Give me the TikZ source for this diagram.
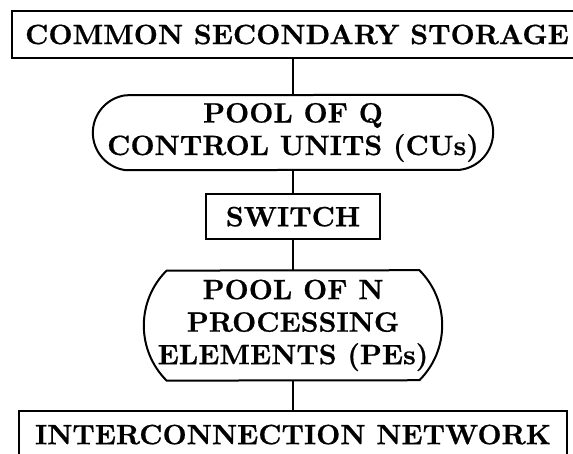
\documentclass[tikz,border=0pt]{standalone}
\usepackage{fontspec}
\usetikzlibrary{positioning}
\newfontfamily\heavyface{lmroman10-bold.otf}[FakeBold=0.6]
\newcommand{\blockfont}{\fontsize{28}{32.5}\selectfont\heavyface}
\tikzset{
  blockbox/.style={draw,rectangle,line width=2pt,inner sep=0pt,minimum height=47pt,font=\blockfont},
  poolbox/.style={rectangle,inner sep=0pt,align=center,font=\blockfont},
  link/.style={line width=2pt}
}

\begin{document}
\begin{tikzpicture}[node distance=30pt]
\useasboundingbox (0,0) rectangle (573pt,-453pt);
\node[blockbox,minimum width=570pt] (storage) at (297pt,-34.5pt) {COMMON SECONDARY STORAGE};
\node[poolbox,minimum width=400pt,minimum height=75pt] (cus) at (293pt,-132.5pt) {POOL OF Q\\CONTROL UNITS (CUs)};
\node[blockbox,below=23pt of cus,minimum width=174pt,minimum height=45pt] (switch) {SWITCH};
\node[poolbox,below=30pt of switch,minimum width=298pt,minimum height=110pt] (pes) {POOL OF N\\PROCESSING\\ELEMENTS (PEs)};
\node[blockbox,below=29pt of pes,minimum width=548pt,minimum height=48pt] (network) {INTERCONNECTION NETWORK};
% outlines of the two pools: straight top/bottom, arcs at the ends
\draw[link] ([xshift=-32.9pt]cus.north east) arc[start angle=82.5,end angle=-82.5,radius=37.8pt]
  -- ([xshift=32.9pt]cus.south west) arc[start angle=262.5,end angle=97.5,radius=37.8pt] -- cycle;
\draw[link] ([xshift=-22.8pt]pes.north east) arc[start angle=45,end angle=-45,radius=77.8pt]
  -- ([xshift=22.8pt]pes.south west) arc[start angle=225,end angle=135,radius=77.8pt] -- cycle;
\draw[link] (storage.south -| cus.north) -- (cus);
\draw[link] (cus) -- (switch);
\draw[link] (switch) -- (pes);
\draw[link] (pes) -- (network);
\end{tikzpicture}
\end{document}
